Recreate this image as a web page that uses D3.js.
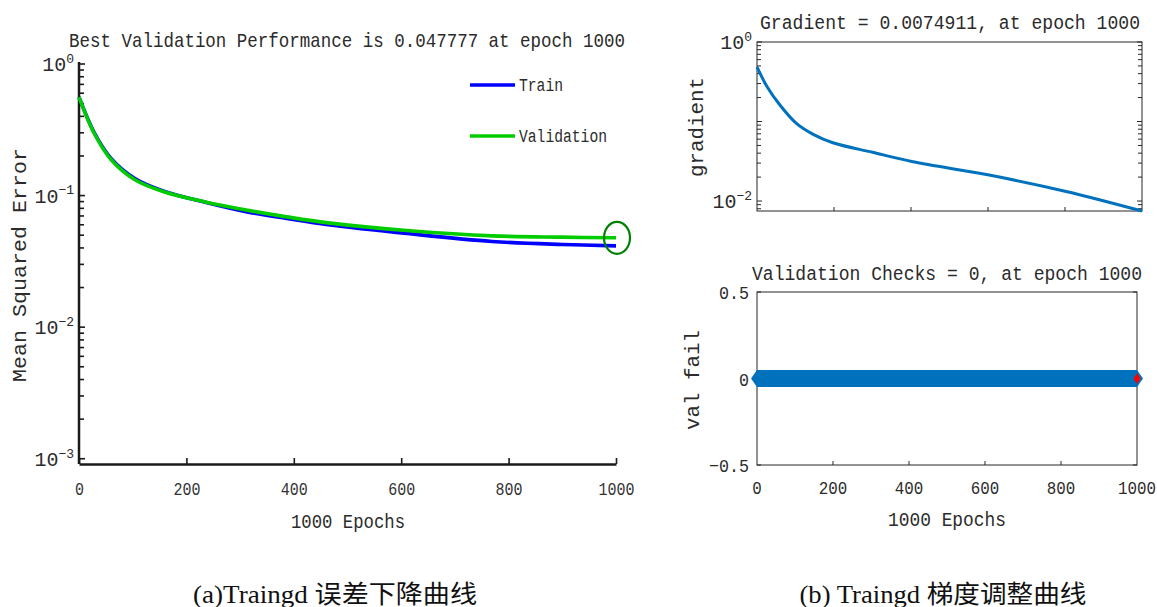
<!DOCTYPE html>
<html>
<head>
<meta charset="utf-8">
<script src="https://cdn.jsdelivr.net/npm/d3@7"></script>
<style>
  body { margin: 0; background: #fff; }
  svg { display: block; }
  text { font-family: "Liberation Mono", "DejaVu Sans Mono", monospace; fill: #2b2b2b; }
  .cap { font-family: "Liberation Serif", "Noto Sans CJK SC", serif; fill: #111; }
</style>
</head>
<body>
<svg id="chart" width="1157" height="607"></svg>
<script>
// ---- data -------------------------------------------------------------
// performance curves (mean squared error per epoch)
const perfEpochs    = [0, 28, 60, 104, 158, 235, 311, 387, 464, 616, 769, 900, 1000];
const trainMSE      = [0.56, 0.303, 0.191, 0.135, 0.108, 0.089, 0.0755, 0.067, 0.0600, 0.0512, 0.0448, 0.0425, 0.0415];
const validationMSE = [0.56, 0.299, 0.187, 0.132, 0.107, 0.0895, 0.0778, 0.0689, 0.0620, 0.0540, 0.0494, 0.0483, 0.047777];
const bestEpoch = 1000;
const bestPerf = 0.047777;

// gradient magnitude per epoch
const gradEpochs = [0, 25, 60, 103, 146, 197, 300, 405, 603, 803, 1000];
const gradient   = [0.485, 0.280, 0.160, 0.094, 0.0690, 0.0540, 0.0410, 0.0312, 0.0212, 0.0132, 0.0074911];

// validation failure count (stays at 0 over the whole run)
const valEpochs = [0, 1000];
const valFail   = [0, 0];

// axis ticks
const epochTicks   = [0, 200, 400, 600, 800, 1000];
const perfDecades  = [0, -1, -2, -3];
const gradDecades  = [0, -2];
const valTicks     = [-0.5, 0, 0.5];
const valTickLabels = ["\u22120.5", "0", "0.5"];

// ---- helpers ----------------------------------------------------------
const svg = d3.select("#chart");

function label(str, x, y, size, width, opts = {}) {
  const t = svg.append("text")
    .attr("x", x).attr("y", y)
    .attr("font-size", size)
    .attr("text-anchor", opts.anchor || "middle")
    .text(str);
  if (width) t.attr("textLength", width).attr("lengthAdjust", "spacingAndGlyphs");
  if (opts.rotate) t.attr("transform", `rotate(-90,${x},${y})`);
  if (opts.cls) t.attr("class", opts.cls);
  if (opts.fill) t.style("fill", opts.fill);
  return t;
}

function powerLabel(exp, xRight, yMid, baseSize, supSize) {
  const t = svg.append("text")
    .attr("x", xRight).attr("y", yMid + baseSize * 0.36)
    .attr("text-anchor", "end")
    .attr("font-size", baseSize);
  t.append("tspan").text("10");
  t.append("tspan").attr("font-size", supSize).attr("dy", -baseSize * 0.42)
    .text(exp === 0 ? "0" : "\u2212" + Math.abs(exp));
}

function logMinorTicks(scale) {
  const [lo, hi] = scale.domain();
  const out = [];
  for (let e = Math.floor(Math.log10(lo)); e <= Math.ceil(Math.log10(hi)); e++) {
    for (let m = 1; m <= 9; m++) {
      const v = m * Math.pow(10, e);
      if (v >= lo * 0.9999 && v <= hi * 1.0001) out.push({ v, major: m === 1 });
    }
  }
  return out;
}

// ---- (a) performance --------------------------------------------------
const ax = d3.scaleLinear().domain([0, 1000]).range([79, 616]);
const ay = d3.scaleLog().domain([Math.pow(10, -3.04), 1]).range([464, 64]);
const axisColor = "#1a1a1a";

const gA = svg.append("g");
// y ticks (inward)
logMinorTicks(ay).forEach(t => {
  gA.append("line")
    .attr("x1", ax(0)).attr("x2", ax(0) + (t.major ? 6 : 5))
    .attr("y1", ay(t.v)).attr("y2", ay(t.v))
    .attr("stroke", axisColor).attr("stroke-width", 1.6);
});
// x axis
const xAxisA = d3.axisBottom(ax).tickValues(epochTicks).tickFormat(d3.format("d"))
  .tickSize(-6).tickSizeOuter(0).tickPadding(18);
const gxA = gA.append("g").attr("transform", `translate(0,${ay.range()[0]})`).call(xAxisA);
gxA.select(".domain").attr("stroke", axisColor).attr("stroke-width", 2.5);
gxA.selectAll(".tick line").attr("stroke", axisColor).attr("stroke-width", 1.6);
gxA.selectAll(".tick text").attr("font-size", 18).attr("font-family", null)
  .style("fill", "#333")
  .each(function (d) {
    const n = String(d).length;
    d3.select(this).attr("textLength", n * 9).attr("lengthAdjust", "spacingAndGlyphs");
  });
// y axis line
gA.append("line").attr("x1", ax(0)).attr("x2", ax(0))
  .attr("y1", ay.range()[0]).attr("y2", 62)
  .attr("stroke", axisColor).attr("stroke-width", 2.5);
perfDecades.forEach(e => powerLabel(e, 74, ay(Math.pow(10, e)), 20, 13));

const lineA = (ys) => d3.line()
  .x((d, i) => ax(perfEpochs[i]))
  .y((d, i) => ay(ys[i]))
  .curve(d3.curveCatmullRom.alpha(0.5))(ys);

gA.append("path").attr("d", lineA(trainMSE))
  .attr("fill", "none").attr("stroke", "#0000ff").attr("stroke-width", 3.6);
gA.append("path").attr("d", lineA(validationMSE))
  .attr("fill", "none").attr("stroke", "#00cc00").attr("stroke-width", 3.6);
gA.append("ellipse")
  .attr("cx", ax(bestEpoch) + 1).attr("cy", ay(bestPerf))
  .attr("rx", 13).attr("ry", 16)
  .attr("fill", "none").attr("stroke", "#008000").attr("stroke-width", 2.2);

// legend
[["Train", "#0000ff", 85], ["Validation", "#00cc00", 136]].forEach(([name, col, y]) => {
  gA.append("line").attr("x1", 470).attr("x2", 515).attr("y1", y).attr("y2", y)
    .attr("stroke", col).attr("stroke-width", 3.6);
  label(name, 519, y + 6, 18, name.length * 8.8, { anchor: "start" });
});

label("Best Validation Performance is 0.047777 at epoch 1000", 347, 47, 21, 556);
label("1000 Epochs", 348, 528, 21, 114);
label("Mean Squared Error", 26, 265, 21, 234, { rotate: true });

// ---- (b) gradient -----------------------------------------------------
const bx = d3.scaleLinear().domain([0, 1000]).range([757, 1142]);
const by = d3.scaleLog().domain([0.0074911, 1]).range([211, 42]);
const boxColor = "#262626";
const gB = svg.append("g");

logMinorTicks(by).forEach(t => {
  const len = t.major ? 5 : 4;
  [[bx.range()[0], 1], [bx.range()[1], -1]].forEach(([x0, s]) => {
    gB.append("line").attr("x1", x0).attr("x2", x0 + s * len)
      .attr("y1", by(t.v)).attr("y2", by(t.v))
      .attr("stroke", boxColor).attr("stroke-width", 1);
  });
});
epochTicks.slice(1, -1).forEach(v => {
  gB.append("line").attr("x1", bx(v)).attr("x2", bx(v))
    .attr("y1", by.range()[0]).attr("y2", by.range()[0] - 4)
    .attr("stroke", boxColor).attr("stroke-width", 1);
});
gB.append("rect")
  .attr("x", bx.range()[0]).attr("y", by.range()[1])
  .attr("width", bx.range()[1] - bx.range()[0]).attr("height", by.range()[0] - by.range()[1])
  .attr("fill", "none").attr("stroke", boxColor).attr("stroke-width", 1);
gB.append("path")
  .attr("d", d3.line().x((d, i) => bx(gradEpochs[i])).y((d, i) => by(gradient[i]))
    .curve(d3.curveCatmullRom.alpha(0.5))(gradient))
  .attr("fill", "none").attr("stroke", "#0072bd").attr("stroke-width", 3);
gradDecades.forEach(e => powerLabel(e, 752, by(Math.pow(10, e)), 20, 13));

label("Gradient = 0.0074911, at epoch 1000", 950, 29, 20, 380);
label("gradient", 703, 127, 20, 100, { rotate: true });

// ---- (b) validation checks -------------------------------------------
const cx = d3.scaleLinear().domain([0, 1000]).range([757, 1137]);
const cy = d3.scaleLinear().domain([-0.5, 0.5]).range([465, 292]);
const gC = svg.append("g");

valTicks.forEach(v => {
  [[cx.range()[0], 1], [cx.range()[1], -1]].forEach(([x0, s]) => {
    gC.append("line").attr("x1", x0).attr("x2", x0 + s * 4)
      .attr("y1", cy(v)).attr("y2", cy(v))
      .attr("stroke", boxColor).attr("stroke-width", 1);
  });
});
epochTicks.slice(1, -1).forEach(v => {
  gC.append("line").attr("x1", cx(v)).attr("x2", cx(v))
    .attr("y1", cy.range()[0]).attr("y2", cy.range()[0] - 4)
    .attr("stroke", boxColor).attr("stroke-width", 1);
});
gC.append("rect")
  .attr("x", cx.range()[0]).attr("y", cy.range()[1])
  .attr("width", cx.range()[1] - cx.range()[0]).attr("height", cy.range()[0] - cy.range()[1])
  .attr("fill", "none").attr("stroke", boxColor).attr("stroke-width", 1);

// dense diamond markers merge into a band along the zero line
gC.append("path")
  .attr("d", d3.line().x((d, i) => cx(valEpochs[i])).y(d => cy(d))(valFail))
  .attr("stroke", "#0072bd").attr("stroke-width", 17).attr("fill", "none");
const diamond = (w, h) => `M0,${-h / 2}L${w / 2},0L0,${h / 2}L${-w / 2},0Z`;
valFail.forEach((d, i) => {
  gC.append("path").attr("d", diamond(12, 17))
    .attr("transform", `translate(${cx(valEpochs[i])},${cy(d)})`)
    .attr("fill", "#0072bd");
});
gC.append("path").attr("d", diamond(7, 11))
  .attr("transform", `translate(${cx(valEpochs[valEpochs.length - 1])},${cy(valFail[valFail.length - 1])})`)
  .attr("fill", "#ff0000");

valTicks.forEach((v, i) => {
  label(valTickLabels[i], 749, cy(v) + 7, 19, valTickLabels[i].length * 10, { anchor: "end" });
});
epochTicks.forEach(v => {
  const s = String(v);
  label(s, cx(v), 494, 18, s.length * 9.5);
});
label("Validation Checks = 0, at epoch 1000", 947, 280, 20, 390);
label("1000 Epochs", 947, 526, 21, 118);
label("val fail", 699, 380, 20, 100, { rotate: true });

// ---- captions ---------------------------------------------------------
label("(a)Traingd 误差下降曲线", 335, 603, 25, 284, { cls: "cap" });
label("(b) Traingd 梯度调整曲线", 943, 603, 25, 287, { cls: "cap" });
</script>
</body>
</html>
